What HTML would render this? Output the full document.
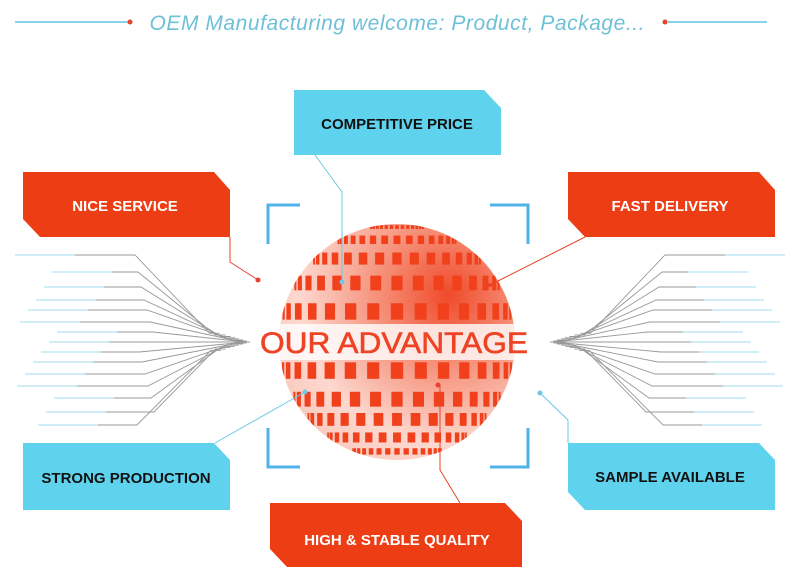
<!DOCTYPE html>
<html><head><meta charset="utf-8"><style>
html,body{margin:0;padding:0;background:#fff;}
svg{display:block}
</style></head><body>
<svg id="s" width="800" height="584" viewBox="0 0 800 584" xmlns="http://www.w3.org/2000/svg">
<defs>
<radialGradient id="sg" cx="0.72" cy="0.3" r="0.9">
<stop offset="0" stop-color="#f04a2a"/>
<stop offset="0.3" stop-color="#f58a72"/>
<stop offset="0.7" stop-color="#fcd8cf"/>
<stop offset="1" stop-color="#f9c4b7"/>
</radialGradient>
<linearGradient id="lg" x1="0" x2="1"><stop offset="0" stop-color="#8fd6ef"/><stop offset="0.5" stop-color="#9a9a9a"/><stop offset="1" stop-color="#888"/></linearGradient>
<clipPath id="cc"><circle cx="397" cy="342" r="118"/></clipPath>
</defs>
<line x1="15" y1="22" x2="128" y2="22" stroke="#5ec6e0" stroke-width="1.5"/>
<circle cx="130" cy="22" r="2.5" fill="#e8432a"/>
<line x1="668" y1="22" x2="767" y2="22" stroke="#5ec6e0" stroke-width="1.5"/>
<circle cx="665" cy="22" r="2.5" fill="#e8432a"/>
<text x="397" y="30" text-anchor="middle" font-family="Liberation Sans, sans-serif" font-style="italic" font-size="21" fill="#6ec0d8" textLength="495">OEM Manufacturing welcome: Product, Package...</text>
<g id="circ" fill="none" stroke-width="1"></g>
<circle cx="397" cy="342" r="118" fill="url(#sg)"/>
<g id="tiles" clip-path="url(#cc)" fill="#f0401c"></g>
<rect x="278" y="324" width="240" height="36" fill="#fff" opacity="0.8" clip-path="url(#cc)"/>
<text x="394" y="353" text-anchor="middle" font-family="Liberation Sans, sans-serif" font-size="30" fill="#ee4324" stroke="#ee4324" stroke-width="0.6" textLength="268" lengthAdjust="spacingAndGlyphs">OUR ADVANTAGE</text>
<g stroke="#4fb3ea" stroke-width="3" fill="none">
<path d="M300,205 H268 V244"/><path d="M490,205 H528 V244"/>
<path d="M268,428 V467 H300"/><path d="M528,428 V467 H490"/>
</g>
<g fill="none" stroke-width="1">
<path d="M230,237 V262 L258,280" stroke="#e8432a"/>
<path d="M315,155 L342,192 V282" stroke="#6cc8e4"/>
<path d="M585,237 L490,285" stroke="#e8432a"/>
<path d="M215,443 L305,392" stroke="#6cc8e4"/>
<path d="M568,443 V420 L540,393" stroke="#6cc8e4"/>
<path d="M460,503 L440,470 V385" stroke="#e8432a"/>
</g>
<g fill="#e8432a"><circle cx="258" cy="280" r="2.5"/><circle cx="438" cy="385" r="2.5"/><circle cx="490" cy="285" r="2"/></g>
<g fill="#6cc8e4"><circle cx="342" cy="282" r="2.5"/><circle cx="305" cy="392" r="2.5"/><circle cx="540" cy="393" r="2.5"/></g>
<g font-family="Liberation Sans, sans-serif" font-weight="bold" font-size="15" text-anchor="middle">
<path d="M294,90 H484 L501,108 V155 H294 Z" fill="#5fd3ee"/>
<text x="397" y="129" fill="#111">COMPETITIVE PRICE</text>
<path d="M23,172 H214 L230,190 V237 H40 L23,219 Z" fill="#ec3d15"/>
<text x="125" y="211" fill="#fff">NICE SERVICE</text>
<path d="M568,172 H759 L775,190 V237 H585 L568,219 Z" fill="#ec3d15"/>
<text x="670" y="211" fill="#fff">FAST DELIVERY</text>
<path d="M23,443 H214 L230,460 V510 H23 Z" fill="#5fd3ee"/>
<text x="126" y="483" fill="#111">STRONG PRODUCTION</text>
<path d="M568,443 H759 L775,460 V510 H585 L568,492 Z" fill="#5fd3ee"/>
<text x="670" y="482" fill="#111">SAMPLE AVAILABLE</text>
<path d="M270,503 H505 L522,521 V567 H287 L270,549 Z" fill="#ec3d15"/>
<text x="397" y="545" fill="#fff">HIGH &amp; STABLE QUALITY</text>
</g>
</svg>
<script>
var NS="http://www.w3.org/2000/svg";
var t=document.getElementById('tiles');
var cx=397,cy=342,r=118;
var lats=[-77,-60,-45,-30,-15,14,29,41,54,68];
lats.forEach(function(la){
  var L=la*Math.PI/180;var y=cy+r*Math.sin(L);var rr=r*Math.cos(L);
  var h=Math.max(3,17*Math.cos(L));
  for(var lo=-84;lo<=84;lo+=12){
    var O=lo*Math.PI/180;var x=cx+rr*Math.sin(O);var w=Math.max(1.5,13*Math.cos(O)*Math.cos(L)*0.9+1);
    var e=document.createElementNS(NS,'rect');
    e.setAttribute('x',x-w/2);e.setAttribute('y',y-h/2);e.setAttribute('width',w);e.setAttribute('height',h);
    t.appendChild(e);
  }
});
var c=document.getElementById('circ');
var ys=[255,272,287,300,310,322,332,342,352,362,374,386,398,412,425];
ys.forEach(function(y,i){
  var x0=15+(i*37)%45, x1=135+(i*23)%20;
  [1,-1].forEach(function(s){
    var d=Math.abs(y-342);
    var xe=250-d*0.35;
    var a=s===1?x0:800-x0, b=s===1?x1:800-x1, e=s===1?xe:800-xe;
    var mid=s===1?xe-10:800-xe+10;
    var p=document.createElementNS(NS,'path');
    p.setAttribute('d','M'+a+','+y+' H'+b+' L'+mid+','+(342+(y-342)*0.1)+' H'+e);
    p.setAttribute('stroke','#999');p.setAttribute('stroke-width','0.9');
    c.appendChild(p);
    var q=document.createElementNS(NS,'line');
    q.setAttribute('x1',a);q.setAttribute('x2',s===1?a+60:a-60);q.setAttribute('y1',y);q.setAttribute('y2',y);
    q.setAttribute('stroke','#9fdcf0');c.appendChild(q);
  });
});
</script>
</body></html>
